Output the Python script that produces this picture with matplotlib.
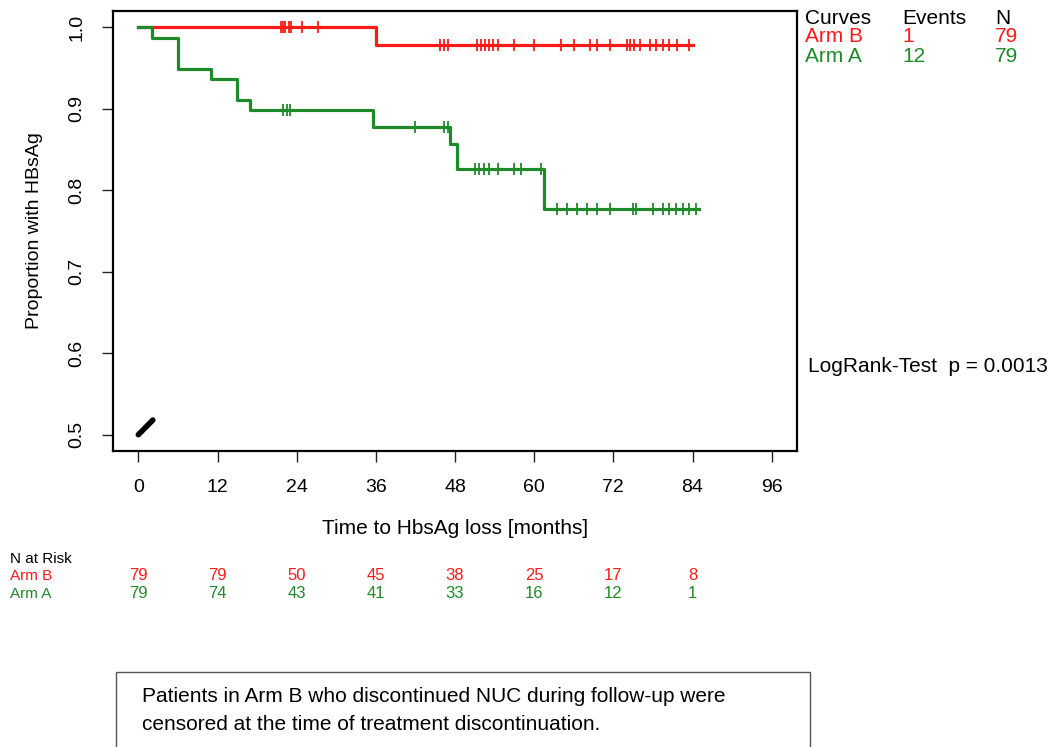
import numpy as np
import matplotlib
matplotlib.use("Agg")
import matplotlib.pyplot as plt
from matplotlib.patches import Rectangle

plt.rcParams['font.family'] = ['Liberation Sans', 'DejaVu Sans']

# ---- data ----
armB_times = [0, 36, 84]
armB_surv = [1.0, 0.978, 0.978]
armA_times = [0, 2, 6, 11, 15, 17, 35.5, 47.2, 48.3, 61.5, 85]
armA_surv = [1.0, 0.987, 0.949, 0.937, 0.911, 0.899, 0.878, 0.857, 0.826, 0.777, 0.777]

armB_censor = [21.7, 22.0, 22.3, 22.8, 23.2, 24.8, 27.3, 45.7, 46.4, 46.9, 51.4, 52.0,
               52.6, 53.2, 53.8, 54.5, 57.0, 60.0, 64.0, 66.0, 68.5, 69.5, 71.5, 74.0,
               74.6, 75.2, 76.0, 77.5, 78.5, 79.5, 80.5, 81.6, 83.5]
armA_censor = [22.0, 22.5, 23.0, 42.0, 46.4, 47.0, 51.0, 51.7, 52.4, 53.1, 54.5, 57.0,
               58.0, 61.0, 63.5, 65.0, 66.5, 68.0, 69.5, 71.5, 75.0, 75.5, 78.0, 79.5,
               80.5, 81.5, 82.5, 83.5, 84.6]

x_ticks = [0, 12, 24, 36, 48, 60, 72, 84, 96]
y_ticks = [0.5, 0.6, 0.7, 0.8, 0.9, 1.0]
y_ticklabels = ["0.5", "0.6", "0.7", "0.8", "0.9", "1.0"]

risk_times = [0, 12, 24, 36, 48, 60, 72, 84]
armB_risk = [79, 79, 50, 45, 38, 25, 17, 8]
armA_risk = [79, 74, 43, 41, 33, 16, 12, 1]

armB_events, armB_N = 1, 79
armA_events, armA_N = 12, 79
p_value = "0.0013"

artifact_x = [0.0, 2.2]
artifact_y = [0.5, 0.518]

RED = '#ff1a1a'
GREEN = '#1f8a2a'

W, H = 1062, 747
fig = plt.figure(figsize=(W / 100, H / 100), dpi=100)
ax = fig.add_axes([113 / W, 1 - 451 / H, (797 - 113) / W, (451 - 11) / H])


def surv_at(times, surv, t):
    idx = np.searchsorted(np.asarray(times), np.asarray(t), side='right') - 1
    return np.asarray(surv)[idx]


ax.step(armB_times, armB_surv, where='post', color=RED, lw=2.3)
ax.step(armA_times, armA_surv, where='post', color=GREEN, lw=2.3)
ax.plot(armB_censor, surv_at(armB_times, armB_surv, armB_censor), ls='none',
        marker='|', ms=8, mew=1.3, color=RED)
ax.plot(armA_censor, surv_at(armA_times, armA_surv, armA_censor), ls='none',
        marker='|', ms=8, mew=1.3, color=GREEN)
ax.plot(artifact_x, artifact_y, color='black', lw=4, solid_capstyle='round')

ax.set_xlim(-3.84, 99.84)
ax.set_ylim(0.48, 1.02)
ax.set_xticks(x_ticks)
ax.set_xticklabels([str(v) for v in x_ticks], fontsize=14)
ax.set_yticks(y_ticks)
ax.set_yticklabels(y_ticklabels, fontsize=14, rotation=90, va='center')
ax.tick_params(axis='both', direction='out', length=8, width=1, color='#222222')
ax.tick_params(axis='x', pad=12)
ax.tick_params(axis='y', pad=12)
for s in ax.spines.values():
    s.set_linewidth(1.6)

ax.set_xlabel("Time to HbsAg loss [months]", fontsize=15, labelpad=17)
ax.set_ylabel("Proportion with HBsAg", fontsize=14, labelpad=18)

# legend table at right
def ftext(px, py, s, color='black', size=15, ha='left', **kw):
    fig.text(px / W, 1 - py / H, s, color=color, fontsize=size, va='center', ha=ha, **kw)

cols = [805, 902, 995]
rows = [18, 37, 57]
ftext(cols[0], rows[0], "Curves"); ftext(cols[1], rows[0], "Events"); ftext(cols[2], rows[0], "N")
ftext(cols[0], rows[1], "Arm B", RED); ftext(cols[1], rows[1], str(armB_events), RED)
ftext(cols[2], rows[1], str(armB_N), RED)
ftext(cols[0], rows[2], "Arm A", GREEN); ftext(cols[1], rows[2], str(armA_events), GREEN)
ftext(cols[2], rows[2], str(armA_N), GREEN)

ftext(808, 367, "LogRank-Test  p = " + p_value, size=15)

# numbers at risk
ftext(10, 559, "N at Risk", size=11)
ftext(10, 576, "Arm B", RED, size=11)
ftext(10, 594, "Arm A", GREEN, size=11)
for t, b, a in zip(risk_times, armB_risk, armA_risk):
    xf = fig.transFigure.inverted().transform(ax.transData.transform((t, 0.5)))[0]
    fig.text(xf, 1 - 576 / H, str(b), color=RED, fontsize=12, ha='center', va='center')
    fig.text(xf, 1 - 594 / H, str(a), color=GREEN, fontsize=12, ha='center', va='center')

# note box
rect = Rectangle((116 / W, 1 - 765 / H), (810 - 116) / W, (765 - 672) / H,
                 transform=fig.transFigure, fill=False, edgecolor='#555555', lw=1.0)
fig.add_artist(rect)
fig.text(142 / W, 1 - 697 / H, "Patients in Arm B who discontinued NUC during follow-up were",
         fontsize=15, va='center', ha='left')
fig.text(142 / W, 1 - 724 / H, "censored at the time of treatment discontinuation.",
         fontsize=15, va='center', ha='left')

fig.savefig("out.png", dpi=100)
